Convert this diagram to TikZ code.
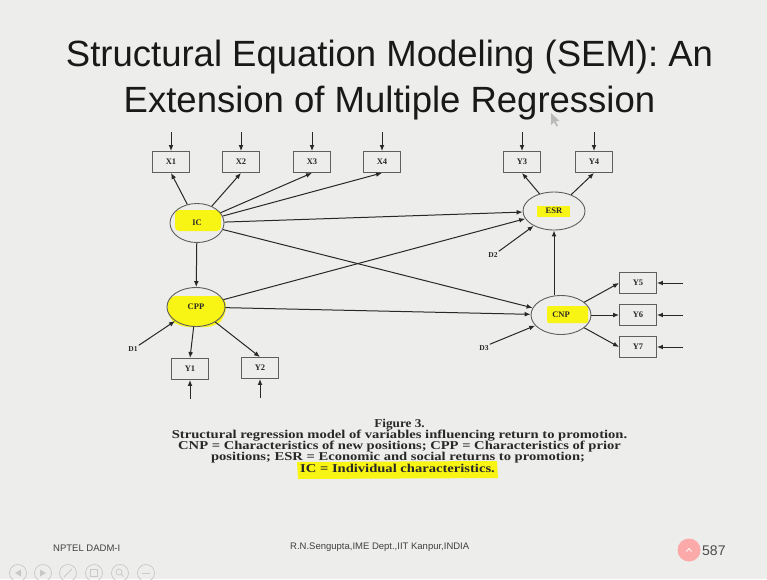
\documentclass[tikz,border=0pt]{standalone}
\usepackage{fontspec}
\setmainfont{Liberation Serif}
\setsansfont{Liberation Sans}
\usetikzlibrary{shapes.geometric,arrows.meta,calc}
\definecolor{slidebg}{RGB}{237,237,235}
\definecolor{ink}{RGB}{40,40,40}
\definecolor{hl}{RGB}{248,244,20}
\definecolor{boxline}{RGB}{95,95,95}
\definecolor{navgray}{RGB}{200,200,200}

\begin{document}
\begin{tikzpicture}[x=1pt,y=-1pt,
  obs/.style={draw=boxline, line width=0.9pt, minimum width=37pt, minimum height=21pt,
    inner sep=0pt, font=\fontsize{8.5}{8.5}\selectfont\bfseries, text=ink},
  lat/.style={ellipse, draw=boxline, line width=0.9pt, inner sep=0pt,
    font=\fontsize{8.5}{9}\selectfont\bfseries, text=ink},
  dlab/.style={font=\fontsize{7.5}{8}\selectfont\bfseries, text=ink, inner sep=1pt},
  link/.style={draw=ink, line width=1pt, -{Latex[length=6pt,width=4.8pt]}},
  capline/.style={anchor=base, font=\fontsize{12}{12}\selectfont\bfseries, text=ink, inner sep=0pt},
  titleline/.style={anchor=base, font=\sffamily\fontsize{36.5}{40}\selectfont, text=black!90, inner sep=0pt},
  foot/.style={anchor=west, font=\sffamily\fontsize{9.5}{10}\selectfont, text=black!75, inner sep=0pt},
  navbtn/.style={draw=navgray, line width=0.7pt}
]
% slide background
\fill[slidebg] (0,0) rectangle (767,579);
\useasboundingbox (0,0) rectangle (767,579);

% title
\node[titleline] (t1) at (389.5,66) {Structural Equation Modeling (SEM): An};
\node[titleline] (t2) at (389.5,112) {Extension of Multiple Regression};

% mouse pointer
\fill[gray!55] (551,113) -- (551,125) -- (554,122) -- (556.5,126.5) -- (558,125.7) -- (555.6,121.3) -- (559.5,121) -- cycle;

% marker highlights behind the latent variables
\fill[hl, rounded corners=4pt] (175,210) rectangle (221,231);
\fill[hl, rounded corners=9pt] (167,296) -- (226,296) -- (226,316) -- (215,327) -- (180,327) -- (168,318) -- cycle;
\fill[hl] (537,206) rectangle (570,217);
\fill[hl, rounded corners=2pt] (547,306) rectangle (588,323);

% latent variables
\node[lat, minimum width=54pt, minimum height=39pt] (IC)  at (197,223) {IC};
\node[lat, minimum width=62pt, minimum height=38pt] (ESR) at (554,211) {ESR};
\node[lat, minimum width=58pt, minimum height=39pt] (CPP) at (196,307) {CPP};
\node[lat, minimum width=60pt, minimum height=39pt] (CNP) at (561,315) {CNP};

% indicators
\node[obs] (X1) at (171,162) {X1};
\node[obs] (X2) at (241,162) {X2};
\node[obs] (X3) at (312,162) {X3};
\node[obs] (X4) at (382,162) {X4};
\node[obs] (Y3) at (522,162) {Y3};
\node[obs] (Y4) at (594,162) {Y4};
\node[obs] (Y1) at (190,369) {Y1};
\node[obs] (Y2) at (260,368) {Y2};
\node[obs] (Y5) at (638,283) {Y5};
\node[obs] (Y6) at (638,315) {Y6};
\node[obs] (Y7) at (638,347) {Y7};

% disturbances
\node[dlab] (D1) at (133,349) {D1};
\node[dlab] (D2) at (493,255) {D2};
\node[dlab] (D3) at (484,348) {D3};

% measurement paths
\foreach \b in {X1,X2,X3,X4} \draw[link] (IC) -- (\b.south);
\draw[link] (ESR) -- (Y3.south);
\draw[link] (ESR) -- (Y4.south);
\draw[link] (CPP) -- (Y1.north);
\draw[link] (CPP) -- (Y2.north);
\foreach \b in {Y5,Y6,Y7} \draw[link] (CNP) -- (\b.west);

% structural paths
\draw[link] (IC) -- (ESR);
\draw[link] (IC) -- (CNP);
\draw[link] (IC) -- (CPP);
\draw[link] (CPP) -- (ESR);
\draw[link] (CPP) -- (CNP);
\draw[link] (CNP.north -| ESR.south) -- (ESR.south);

% disturbance paths
\draw[link] (D1.north east) -- (CPP);
\draw[link] (D2.north east) -- (ESR);
\draw[link] (D3.north east) -- (CNP);

% measurement errors
\foreach \b in {X1,X2,X3,X4,Y3,Y4} \draw[link] (\b.north) ++(0,-19) -- (\b.north);
\foreach \b in {Y1,Y2} \draw[link] (\b.south) ++(0,19) -- (\b.south);
\foreach \b in {Y5,Y6,Y7} \draw[link] (\b.east) ++(26,0) -- (\b.east);

% caption
\fill[hl] (297,462) -- (497,461) -- (498,478) -- (298,479) -- cycle;
\node[capline] (c1) at (399.5,427) {\scalebox{1.1}[1]{Figure 3.}};
\node[capline] (c2) at (399.5,438.5) {\scalebox{1.215}[1]{Structural regression model of variables influencing return to promotion.}};
\node[capline] (c3) at (399.5,449.5) {\scalebox{1.215}[1]{CNP = Characteristics of new positions; CPP = Characteristics of prior}};
\node[capline] (c4) at (398,460.5) {\scalebox{1.215}[1]{positions; ESR = Economic and social returns to promotion;}};
\node[capline] (c5) at (397.5,472.5) {\scalebox{1.215}[1]{IC = Individual characteristics.}};

% footer
\node[foot] (f1) at (53,548) {NPTEL DADM-I};
\node[foot] (f2) at (290,547) {R.N.Sengupta,IME Dept.,IIT Kanpur,INDIA};
\fill[red!40, opacity=0.8] (689,550) circle (11.5);
\draw[white, line width=0.8pt] (686.5,551.5) -- (689,548.5) -- (691.5,551.5);
\node[foot, font=\sffamily\fontsize{14}{14}\selectfont, text=black!70] (pg) at (702,551) {587};

% navigation buttons
\foreach \cx in {18,43,68,94,120,146} \draw[navgray, line width=0.7pt] (\cx,573) circle (8.5);
\fill[navgray] (15,573) -- (21,569.5) -- (21,576.5) -- cycle;
\fill[navgray] (46,573) -- (40,569.5) -- (40,576.5) -- cycle;
\draw[navgray, line width=0.8pt] (64,577) -- (72,569);
\draw[navgray, line width=0.7pt] (90.5,569.5) rectangle (97.5,576.5);
\draw[navgray, line width=0.7pt] (119,572) circle (3) (121,574) -- (123.5,576.5);
\draw[navgray, line width=0.8pt] (142,573) -- (150,573);
\end{tikzpicture}
\end{document}
